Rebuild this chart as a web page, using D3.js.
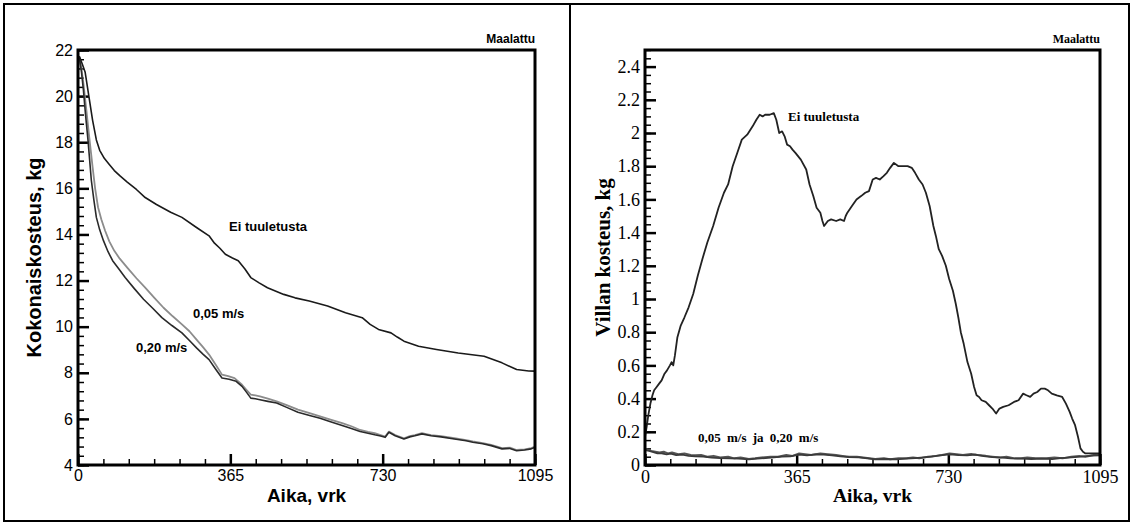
<!DOCTYPE html>
<html><head><meta charset="utf-8">
<script src="https://cdn.jsdelivr.net/npm/d3@7"></script>
<style>html,body{margin:0;padding:0;background:#fff;}</style>
</head><body>
<svg id="c" width="1133" height="525"></svg>
<script>
// ---------- DATA ----------
const xTickValues = [0, 365, 730, 1095];
const xTickLabels = ["0", "365", "730", "1095"];
const leftYTicks = [4, 6, 8, 10, 12, 14, 16, 18, 20, 22];
const rightYTicks = [0, 0.2, 0.4, 0.6, 0.8, 1, 1.2, 1.4, 1.6, 1.8, 2, 2.2, 2.4];
const rightYLabels = ["0","0.2","0.4","0.6","0.8","1","1.2","1.4","1.6","1.8","2","2.2","2.4"];

// Left panel: total moisture, kg
const leftEiDays = [0,4,10,17,26,35,44,52,63,74,87,100,118,140,161,188,222,249,284,314,327,340,353,370,384,400,414,434,454,493,520,554,598,641,681,700,720,750,765,781,816,859,911,973,1016,1051,1080,1095];
const leftEiVals = [21.6,21.7,21.4,21.05,20.0,18.95,18.1,17.65,17.3,17.06,16.77,16.55,16.27,15.95,15.6,15.3,14.96,14.74,14.3,13.94,13.62,13.4,13.14,12.98,12.86,12.5,12.13,11.9,11.69,11.4,11.25,11.11,10.9,10.6,10.39,10.1,9.88,9.73,9.55,9.37,9.15,9.01,8.86,8.72,8.43,8.14,8.08,8.07];

const left005Days = [0,3,8,13,20,26,35,41,48,56,65,75,87,100,118,140,161,183,205,227,249,267,284,300,314,330,345,360,375,393,404,414,425,436,455,476,500,527,555,580,605,633,655,676,695,711,725,736,745,760,781,795,807,824,846,870,902,930,946,970,990,1016,1035,1051,1070,1086,1095];
const left005Vals = [21.6,21.7,21.2,20.55,19.4,18.37,16.92,16.0,15.18,14.65,14.16,13.7,13.29,12.95,12.56,12.1,11.69,11.25,10.82,10.45,10.1,9.8,9.44,9.1,8.79,8.35,7.92,7.85,7.77,7.48,7.25,7.05,7.02,6.98,6.88,6.76,6.6,6.4,6.25,6.11,5.97,5.82,5.68,5.52,5.44,5.38,5.3,5.23,5.45,5.3,5.16,5.25,5.3,5.38,5.3,5.25,5.16,5.08,5.02,4.95,4.87,4.73,4.75,4.65,4.68,4.73,4.8];

const left020Days = [0,3,8,13,18,24,32,38,44,52,61,72,83,98,113,135,157,179,201,225,249,267,284,300,314,330,345,362,379,393,404,414,425,436,455,476,500,527,555,580,605,633,655,676,695,711,725,736,745,760,781,795,807,824,846,870,902,930,946,970,990,1016,1035,1051,1070,1086,1095];
const left020Vals = [21.6,21.7,21.1,20.26,19.2,18.08,16.34,15.5,14.74,14.2,13.73,13.25,12.86,12.5,12.13,11.65,11.19,10.8,10.39,10.05,9.73,9.4,9.08,8.8,8.57,8.15,7.77,7.72,7.63,7.41,7.15,6.9,6.87,6.83,6.76,6.69,6.5,6.29,6.15,6.03,5.88,5.71,5.58,5.45,5.38,5.31,5.26,5.2,5.42,5.27,5.13,5.22,5.27,5.35,5.27,5.22,5.13,5.05,4.99,4.92,4.84,4.7,4.72,4.62,4.65,4.7,4.77];

// Right panel: insulation moisture, kg
const rightEiDays = [0,4,8,13,18,22,28,34,40,47,53,60,64,68,72,78,86,95,105,116,127,138,150,164,177,190,200,211,222,233,246,259,268,276,283,289,300,310,316,323,330,336,342,349,355,362,375,388,396,405,413,422,427,431,440,448,460,470,479,483,487,498,509,520,530,539,548,556,565,574,582,590,599,610,621,632,642,650,659,668,676,685,694,700,707,715,724,732,741,748,754,760,767,776,785,792,798,804,810,820,828,836,845,853,862,875,888,899,910,918,927,935,944,953,962,970,979,991,1004,1013,1022,1028,1035,1042,1048,1054,1060,1075,1095];
const rightEiVals = [0.17,0.23,0.3,0.37,0.42,0.45,0.47,0.49,0.51,0.55,0.57,0.6,0.62,0.6,0.66,0.77,0.84,0.89,0.95,1.03,1.14,1.24,1.34,1.44,1.55,1.64,1.69,1.8,1.88,1.96,1.99,2.04,2.08,2.11,2.1,2.11,2.11,2.12,2.08,2.0,2.01,1.98,1.93,1.92,1.9,1.88,1.84,1.78,1.69,1.62,1.55,1.52,1.47,1.44,1.47,1.48,1.47,1.48,1.47,1.5,1.52,1.56,1.6,1.62,1.64,1.65,1.72,1.73,1.72,1.74,1.76,1.79,1.82,1.8,1.8,1.8,1.79,1.76,1.72,1.69,1.64,1.56,1.44,1.38,1.3,1.26,1.2,1.12,1.05,0.97,0.89,0.8,0.73,0.62,0.55,0.47,0.42,0.41,0.39,0.38,0.36,0.34,0.31,0.34,0.35,0.36,0.38,0.39,0.43,0.42,0.41,0.43,0.44,0.46,0.46,0.45,0.43,0.42,0.41,0.37,0.32,0.28,0.24,0.17,0.1,0.08,0.07,0.07,0.07];

const right005Days = [0,8,15,25,35,45,55,65,80,95,110,121,135,150,165,181,200,215,230,250,265,280,302,320,340,355,371,385,400,422,440,460,475,491,510,525,540,554,575,590,610,629,645,660,681,700,715,733,750,765,785,800,820,836,855,870,890,905,920,940,966,985,1005,1026,1045,1060,1080,1095];
const right005Vals = [0.1,0.09,0.085,0.08,0.075,0.08,0.07,0.075,0.065,0.07,0.06,0.058,0.06,0.05,0.055,0.045,0.05,0.04,0.045,0.036,0.04,0.045,0.05,0.05,0.06,0.055,0.07,0.065,0.06,0.07,0.065,0.06,0.055,0.05,0.05,0.045,0.04,0.036,0.04,0.035,0.04,0.04,0.045,0.04,0.05,0.055,0.06,0.07,0.065,0.06,0.066,0.06,0.055,0.05,0.045,0.05,0.04,0.04,0.045,0.04,0.04,0.045,0.04,0.05,0.055,0.05,0.06,0.06];

const right020Days = [0,10,20,30,40,52,62,75,90,105,121,140,160,181,205,225,250,270,290,310,330,350,371,390,410,430,450,470,491,515,535,554,580,605,629,650,670,690,710,733,755,775,795,815,836,860,880,905,930,955,980,1000,1026,1050,1075,1095];
const right020Vals = [0.09,0.085,0.078,0.07,0.07,0.064,0.068,0.06,0.062,0.055,0.052,0.05,0.045,0.042,0.04,0.038,0.034,0.038,0.042,0.046,0.05,0.052,0.062,0.058,0.064,0.062,0.058,0.052,0.048,0.046,0.04,0.034,0.036,0.034,0.038,0.042,0.046,0.05,0.058,0.064,0.06,0.058,0.062,0.054,0.048,0.044,0.04,0.038,0.036,0.038,0.036,0.042,0.046,0.05,0.056,0.058];

// ---------- DRAW ----------
const svg = d3.select("#c");
svg.append("rect").attr("x",4).attr("y",4).attr("width",1125).attr("height",517)
  .attr("fill","none").attr("stroke","#000").attr("stroke-width",2);
svg.append("line").attr("x1",570).attr("x2",570).attr("y1",4).attr("y2",521)
  .attr("stroke","#000").attr("stroke-width",2);

function panel(o){
  const x = d3.scaleLinear().domain([0,1095]).range([o.x0,o.x1]);
  const y = d3.scaleLinear().domain(o.yDomain).range([o.y1,o.y0]);
  const g = svg.append("g");
  // minor ticks
  const xMinor = d3.range(0,1095.01,365/6);
  const yMinor = d3.range(o.yDomain[0], o.yDomain[1]+1e-9, o.yMinorStep);
  g.append("g").attr("transform",`translate(0,${o.y1})`)
    .call(d3.axisBottom(x).tickValues(xMinor).tickSize(-6).tickFormat(""))
    .call(a=>{a.select(".domain").remove(); a.selectAll("line").attr("stroke","#000").attr("stroke-width",1.5);});
  g.append("g").attr("transform",`translate(${o.x0},0)`)
    .call(d3.axisLeft(y).tickValues(yMinor).tickSize(-6).tickFormat(""))
    .call(a=>{a.select(".domain").remove(); a.selectAll("line").attr("stroke","#000").attr("stroke-width",1.5);});
  // major ticks
  g.append("g").attr("transform",`translate(0,${o.y1})`)
    .call(d3.axisBottom(x).tickValues(xTickValues).tickSize(-11).tickPadding(5)
      .tickFormat((d,i)=>xTickLabels[i]))
    .call(a=>{a.select(".domain").remove();
      a.selectAll("line").attr("stroke","#000").attr("stroke-width",2.5);
      a.selectAll("text").attr("fill","#000").style("font-family",o.font).style("font-size",o.tickFs+"px");});
  g.append("g").attr("transform",`translate(${o.x0},0)`)
    .call(d3.axisLeft(y).tickValues(o.yTicks).tickSize(-11).tickPadding(5)
      .tickFormat((d,i)=>o.yLabels[i]))
    .call(a=>{a.select(".domain").remove();
      a.selectAll("line").attr("stroke","#000").attr("stroke-width",2.5);
      a.selectAll("text").attr("fill","#000").style("font-family",o.font).style("font-size",o.tickFs+"px");});
  // series
  const line = d3.line().x(d=>x(d[0])).y(d=>y(d[1]));
  o.series.forEach(s=>{
    g.append("path").datum(s.days.map((d,i)=>[d,s.vals[i]]))
      .attr("d",line).attr("fill","none").attr("stroke",s.color)
      .attr("stroke-width",s.w).attr("stroke-linejoin","round");
  });
  // frame
  g.append("rect").attr("x",o.x0).attr("y",o.y0).attr("width",o.x1-o.x0).attr("height",o.y1-o.y0)
    .attr("fill","none").attr("stroke","#000").attr("stroke-width",3);
  // titles
  g.append("text").attr("x",(o.x0+o.x1)/2).attr("y",o.y1+37).attr("text-anchor","middle")
    .style("font-family",o.font).style("font-weight","bold").style("font-size",o.xTitleFs+"px").text("Aika, vrk");
  g.append("text").attr("transform",`translate(${o.yTitleX},${(o.y0+o.y1)/2}) rotate(-90)`)
    .attr("text-anchor","middle").style("font-family",o.font).style("font-weight","bold")
    .style("font-size",o.titleFs+"px").text(o.yTitle);
  g.append("text").attr("x",o.x1).attr("y",o.y0-7).attr("text-anchor","end")
    .style("font-family",o.font).style("font-weight","bold").style("font-size","12px").text("Maalattu");
  o.notes.forEach(n=>{
    g.append("text").attr("x",n.x).attr("y",n.y).style("font-family",o.font)
      .style("font-weight","bold").style("font-size",n.fs+"px")
      .style("word-spacing",(n.ws||0)+"px").text(n.t);
  });
}

panel({x0:78,x1:535,y0:50,y1:465,yDomain:[4,22],yMinorStep:0.4,yTicks:leftYTicks,
  yLabels:leftYTicks.map(String),font:"'Liberation Sans', Arial, sans-serif",tickFs:16,titleFs:20,xTitleFs:19,
  yTitle:"Kokonaiskosteus, kg",yTitleX:41,
  series:[
    {days:left005Days,vals:left005Vals,color:"#8c8c8c",w:1.8},
    {days:left020Days,vals:left020Vals,color:"#2a2a2a",w:1.6},
    {days:leftEiDays,vals:leftEiVals,color:"#1a1a1a",w:1.6}
  ],
  notes:[{x:229,y:231,t:"Ei tuuletusta",fs:13},{x:193,y:318,t:"0,05 m/s",fs:13},{x:136,y:352,t:"0,20 m/s",fs:13}]
});

panel({x0:645,x1:1100,y0:50,y1:465,yDomain:[0,2.5],yMinorStep:0.05,yTicks:rightYTicks,
  yLabels:rightYLabels,font:"'Liberation Serif', 'Times New Roman', serif",tickFs:18,titleFs:21,xTitleFs:19.5,
  yTitle:"Villan kosteus, kg",yTitleX:610,
  series:[
    {days:right005Days,vals:right005Vals,color:"#555",w:2},
    {days:right020Days,vals:right020Vals,color:"#3a3a3a",w:1.8},
    {days:rightEiDays,vals:rightEiVals,color:"#222",w:1.8}
  ],
  notes:[{x:788,y:121,t:"Ei tuuletusta",fs:13},{x:698,y:442,t:"0,05 m/s ja 0,20 m/s",fs:13,ws:3}]
});
</script>
</body></html>
